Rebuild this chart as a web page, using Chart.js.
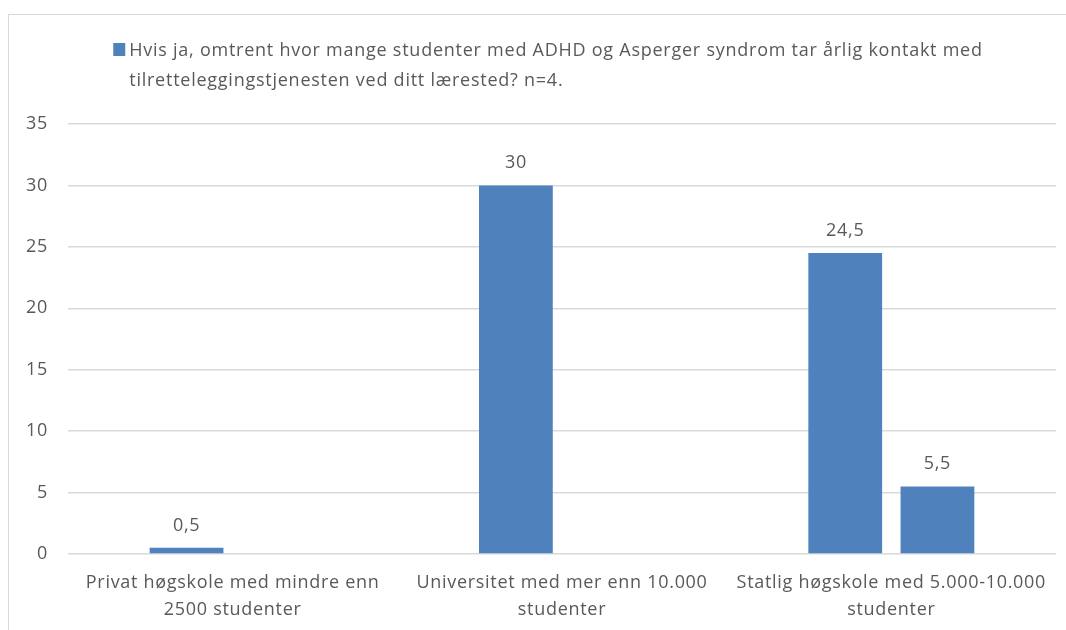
<!DOCTYPE html>
<html lang="no">
<head>
    <meta charset="UTF-8">
    <title>Tilretteleggingstjenesten</title>
    <script src="https://cdn.jsdelivr.net/npm/chart.js"></script>
    <style>
        html, body { margin: 0; padding: 0; background: #fff; overflow: hidden; }
        #frame { position: absolute; left: 8px; top: 14px; width: 1100px; height: 700px;
                 border-left: 1px solid #d9d9d9; border-top: 1px solid #d9d9d9; }
        #wrap { position: absolute; left: 0; top: 0; width: 1066px; height: 630px; }
    </style>
</head>
<body>
    <div id="frame"></div>
    <div id="wrap"><canvas id="chart"></canvas></div>

    <script>
        const categories = [
            ["Privat høgskole med mindre enn", "2500 studenter"],
            ["Universitet med mer enn 10.000", "studenter"],
            ["Statlig høgskole med 5.000-10.000", "studenter"]
        ];
        const seriesLabel = [
            "Hvis ja, omtrent hvor mange studenter med ADHD og Asperger syndrom tar årlig kontakt med",
            "tilretteleggingstjenesten ved ditt lærested? n=4."
        ];
        const valuesFirst = [0.5, 30, 24.5];
        const valuesSecond = [null, null, 5.5];
        const yTicks = [0, 5, 10, 15, 20, 25, 30, 35];

        const barColor = "#4f81bd";
        const textColor = "#595959";
        const font = "'Open Sans'";
        const spacing = "0.7px";

        // litt bredere tekst, som i originalen
        const letterSpacing = {
            id: 'letterSpacing',
            beforeDraw(chart) { chart.ctx.letterSpacing = spacing; }
        };

        // verdier over søylene
        const valueLabels = {
            id: 'valueLabels',
            afterDatasetsDraw(chart) {
                const ctx = chart.ctx;
                ctx.save();
                ctx.letterSpacing = spacing;
                ctx.font = "18px " + font;
                ctx.fillStyle = textColor;
                ctx.textAlign = "center";
                ctx.textBaseline = "alphabetic";
                chart.data.datasets.forEach((ds, i) => {
                    chart.getDatasetMeta(i).data.forEach((bar, j) => {
                        const v = ds.data[j];
                        if (v === null || v === undefined) return;
                        ctx.fillText(String(v).replace('.', ','), bar.x, bar.y - 17);
                    });
                });
                ctx.restore();
            }
        };

        // forklaring over plottet (to linjer)
        const legendBox = {
            id: 'legendBox',
            afterDraw(chart) {
                const ctx = chart.ctx;
                const label = chart.data.datasets[0].label;
                ctx.save();
                ctx.letterSpacing = "0.75px";
                ctx.font = "18px " + font;
                const textW = Math.max(...label.map(t => ctx.measureText(t).width));
                const blockW = 16 + textW;
                const left = (chart.chartArea.left + chart.chartArea.right) / 2 - blockW / 2 - 14;
                ctx.fillStyle = chart.data.datasets[0].backgroundColor;
                ctx.fillRect(left, 43, 12, 13);
                ctx.fillStyle = textColor;
                ctx.textAlign = "left";
                ctx.textBaseline = "alphabetic";
                label.forEach((t, k) => ctx.fillText(t, left + 16, 56 + k * 30));
                ctx.restore();
            }
        };

        Chart.defaults.font.family = font;
        Chart.defaults.font.size = 18;
        Chart.defaults.color = textColor;

        new Chart(document.getElementById("chart"), {
            type: 'bar',
            data: {
                labels: categories,
                datasets: [{
                    label: seriesLabel,
                    data: valuesFirst,
                    backgroundColor: barColor
                }, {
                    label: seriesLabel,
                    data: valuesSecond,
                    backgroundColor: barColor
                }]
            },
            options: {
                responsive: true,
                maintainAspectRatio: false,
                animation: false,
                categoryPercentage: 0.56,
                barPercentage: 0.8,
                layout: { padding: { left: 0, right: 10, top: 124, bottom: 0 } },
                plugins: {
                    tooltip: { enabled: false },
                    legend: { display: false }
                },
                scales: {
                    x: {
                        grid: { display: false, drawTicks: false },
                        border: { display: false },
                        ticks: { color: textColor, padding: 15, maxRotation: 0, autoSkip: false,
                                 font: { lineHeight: 1.5 } },
                        afterFit: s => { s.height = 76; }
                    },
                    y: {
                        min: 0,
                        max: 35,
                        afterBuildTicks: s => { s.ticks = yTicks.map(v => ({ value: v })); },
                        grid: { color: "#d9d9d9", lineWidth: 1.5, drawTicks: false },
                        border: { display: false },
                        ticks: { color: textColor, padding: 20 },
                        afterFit: s => { s.width = 68; }
                    }
                }
            },
            plugins: [letterSpacing, valueLabels, legendBox]
        });
    </script>
</body>
</html>
